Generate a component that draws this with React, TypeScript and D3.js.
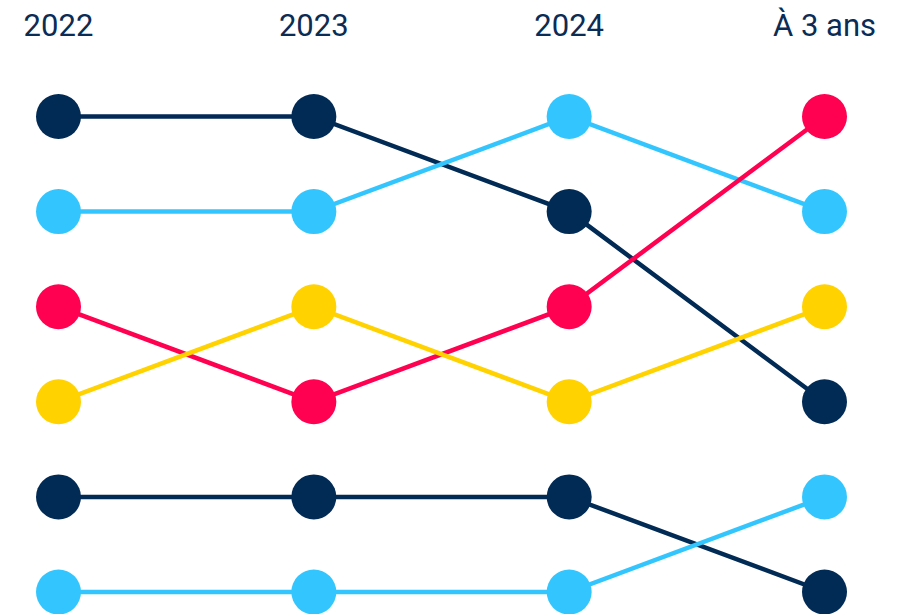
import React from "react";
import * as d3 from "d3";

const columns = ["2022", "2023", "2024", "À 3 ans"];
const seriesNames = ["navyA", "blueA", "red", "yellow", "navyB", "blueB"];
const seriesColors = ["#012a55", "#33c6fe", "#ff0150", "#ffd200", "#012a55", "#33c6fe"];
const navyARanks = [1, 1, 2, 4];
const blueARanks = [2, 2, 1, 2];
const redRanks = [3, 4, 3, 1];
const yellowRanks = [4, 3, 4, 3];
const navyBRanks = [5, 5, 5, 6];
const blueBRanks = [6, 6, 6, 5];
const allRanks = [navyARanks, blueARanks, redRanks, yellowRanks, navyBRanks, blueBRanks];

const W = 909;
const H = 614;

export default function App() {
  const x = d3.scalePoint<string>().domain(columns).range([58.5, 824.5]);
  const y = d3.scaleLinear().domain([1, 6]).range([116.5, 592]);
  const line = d3
    .line<[string, number]>()
    .x((d) => x(d[0]) as number)
    .y((d) => y(d[1]));

  return (
    <svg
      width={W}
      height={H}
      style={{ position: "absolute", left: 0, top: 0, background: "#fff" }}
    >
      {columns.map((c) => (
        <text
          key={c}
          x={x(c)}
          y={36}
          textAnchor="middle"
          fontFamily="Roboto, sans-serif"
          fontSize={32}
          fill="#0b2c55"
          transform={`translate(${x(c)},0) scale(0.97,1) translate(${-(x(c) as number)},0)`}
        >
          {c}
        </text>
      ))}
      {allRanks.map((ranks, i) => (
        <path
          key={seriesNames[i]}
          d={line(columns.map((c, j) => [c, ranks[j]] as [string, number])) || ""}
          fill="none"
          stroke={seriesColors[i]}
          strokeWidth={4.5}
        />
      ))}
      {allRanks.map((ranks, i) =>
        columns.map((c, j) => (
          <circle
            key={seriesNames[i] + c}
            cx={x(c)}
            cy={y(ranks[j])}
            r={22.5}
            fill={seriesColors[i]}
          />
        ))
      )}
    </svg>
  );
}
